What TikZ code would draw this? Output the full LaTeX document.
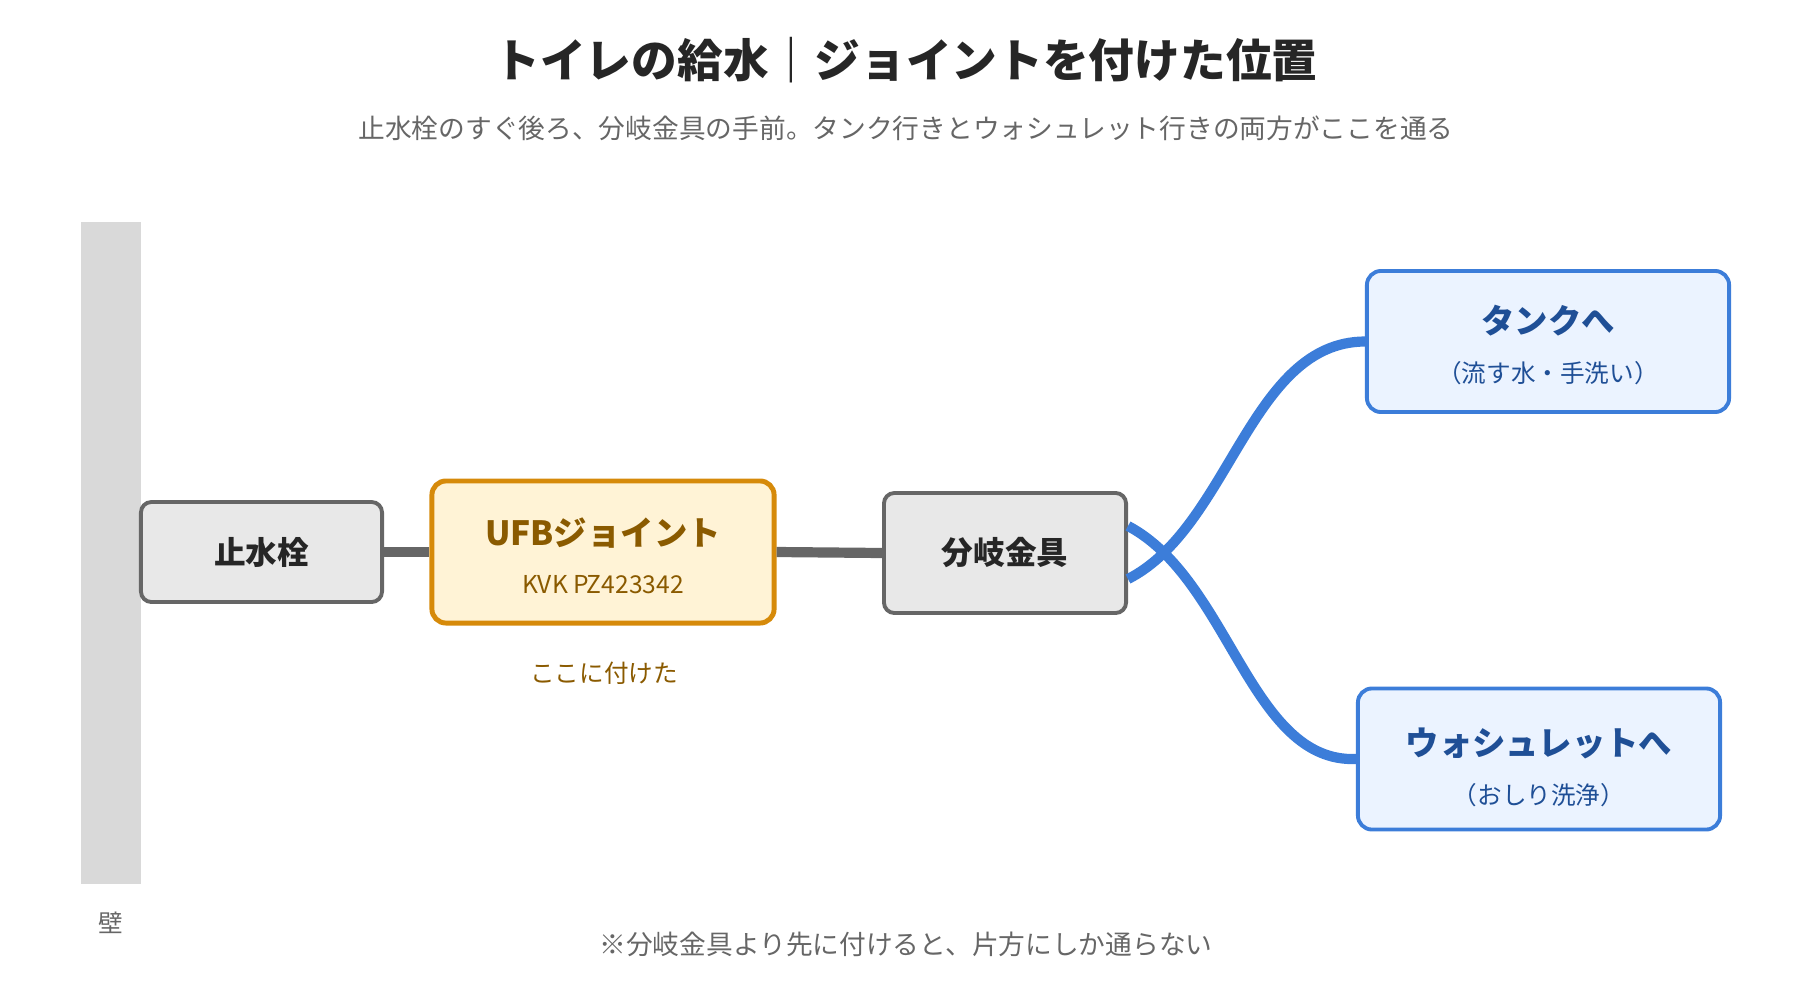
\documentclass[tikz,border=0pt]{standalone}
\usepackage{fontspec}
\setmainfont{Noto Sans CJK JP}
\usetikzlibrary{positioning}
\definecolor{wallgray}{HTML}{D9D9D9}
\definecolor{boxgray}{HTML}{E8E8E8}
\definecolor{edgegray}{HTML}{666666}
\definecolor{jointfill}{HTML}{FFF3D6}
\definecolor{jointedge}{HTML}{D68A0A}
\definecolor{jointtext}{HTML}{8A5A00}
\definecolor{outfill}{HTML}{EBF3FF}
\definecolor{outedge}{HTML}{3C7DD9}
\definecolor{outtext}{HTML}{1F4F96}
\tikzset{
  part/.style={draw=edgegray, fill=boxgray, line width=1.1pt, rounded corners=3pt, font=\fontsize{9}{10}\selectfont\bfseries, text=black!85},
  outlet/.style={draw=outedge, fill=outfill, line width=1.1pt, rounded corners=4pt, minimum width=3.62cm, minimum height=1.41cm},
  pipe/.style={edgegray, line width=2.9pt},
  hose/.style={outedge, line width=2.9pt},
}
\begin{document}
\begin{tikzpicture}[x=0.01cm, y=-0.01cm]
        \useasboundingbox (0, 0) rectangle (1800, 1000);
        \node[font=\fontsize{13}{15}\selectfont\bfseries, text=black!85] (title) at (906, 60) {トイレの給水｜ジョイントを付けた位置};
        \node[font=\fontsize{7.6}{9}\selectfont, text=black!60] (subtitle) at (906, 128) {止水栓のすぐ後ろ、分岐金具の手前。タンク行きとウォシュレット行きの両方がここを通る};
        \fill[wallgray] (81, 222) rectangle (141, 884);
        \node[font=\fontsize{7}{8}\selectfont, text=black!60] (wall) at (111, 923) {壁};
        \node[part, minimum width=2.41cm, minimum height=1.0cm] (valve) at (261.5, 552) {止水栓};
        \node[part, minimum width=2.42cm, minimum height=1.2cm] (fork) at (1005, 553) {分岐金具};
        \node[draw=jointedge, fill=jointfill, line width=1.4pt, rounded corners=4pt, minimum width=3.42cm, minimum height=1.42cm] (joint) at (603, 552) {};
        \node[font=\fontsize{9.5}{10}\selectfont\bfseries, text=jointtext] (jointname) at (603, 533) {UFBジョイント};
        \node[font=\fontsize{7}{8}\selectfont, text=jointtext] (model) at (603, 585) {KVK PZ423342};
        \node[font=\fontsize{7}{8}\selectfont, text=jointtext] (here) at (604, 673) {ここに付けた};
        \node[outlet] (tank) at (1548, 341.5) {};
        \node[font=\fontsize{9.5}{10}\selectfont\bfseries, text=outtext] (tankname) at (1548, 321) {タンクへ};
        \node[font=\fontsize{7}{8}\selectfont, text=outtext] (tanknote) at (1548, 373) {（流す水・手洗い）};
        \node[outlet] (washlet) at (1539, 759) {};
        \node[font=\fontsize{9.5}{10}\selectfont\bfseries, text=outtext] (washname) at (1539, 743) {ウォシュレットへ};
        \node[font=\fontsize{7}{8}\selectfont, text=outtext] (washnote) at (1539, 795) {（おしり洗浄）};
        \node[font=\fontsize{7.6}{9}\selectfont, text=black!60] (note) at (906, 944) {※分岐金具より先に付けると、片方にしか通らない};
        \draw[pipe] (valve.east) -- (joint.west);
        \draw[pipe] (joint.east) -- (fork.west);
        \coordinate (forkup) at ([yshift=-0.26cm]fork.east);
        \coordinate (forkdown) at ([yshift=0.27cm]fork.east);
        \draw[hose] (forkup) .. controls (1230, 527) and (1250, 342) .. (tank.west);
        \draw[hose] (forkdown) .. controls (1230, 580) and (1250, 763) .. (washlet.west);
      \end{tikzpicture}
\end{document}
